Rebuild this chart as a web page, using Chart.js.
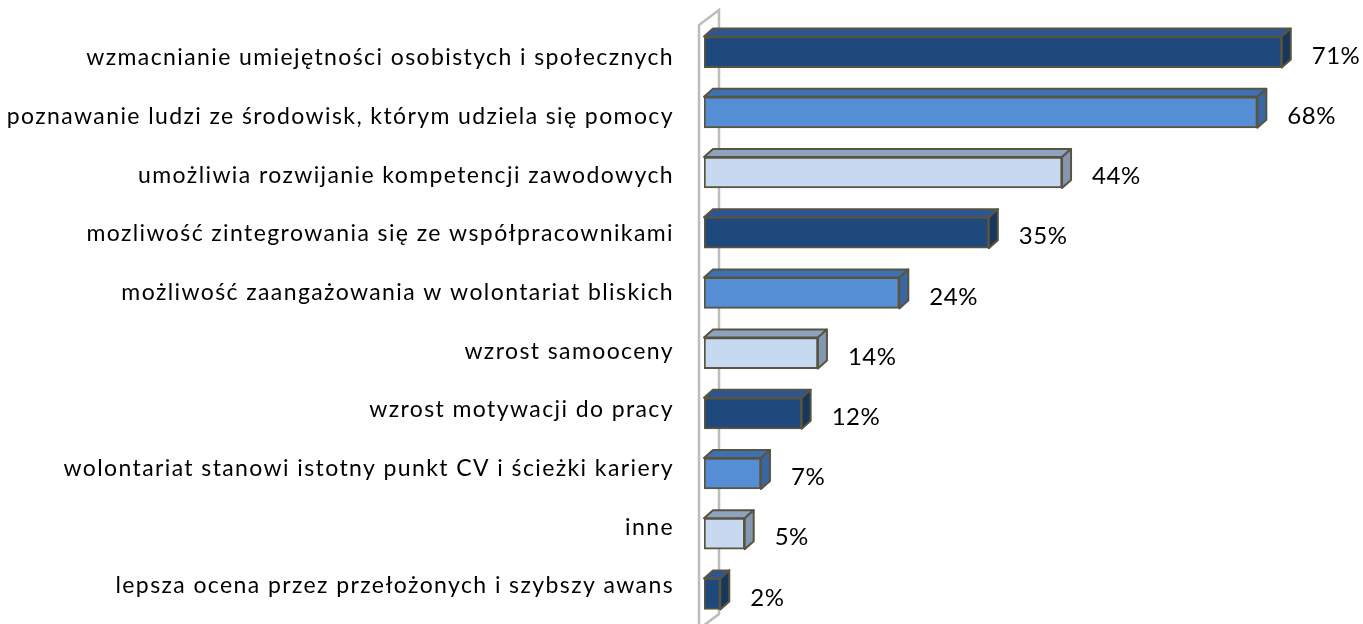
<!DOCTYPE html>
<html>
<head>
<meta charset="utf-8">
<script src="https://cdn.jsdelivr.net/npm/chart.js@4.4.1/dist/chart.umd.min.js"></script>
<style>
  html, body { margin: 0; padding: 0; background: #fff; }
  canvas { display: block; }
</style>
</head>
<body>
<canvas id="chart" width="1363" height="624"></canvas>
<script>
const categories = [
  'wzmacnianie umiejętności osobistych i społecznych',
  'poznawanie ludzi ze środowisk, którym udziela się pomocy',
  'umożliwia rozwijanie kompetencji zawodowych',
  'mozliwość zintegrowania się ze współpracownikami',
  'możliwość zaangażowania w wolontariat bliskich',
  'wzrost samooceny',
  'wzrost motywacji do pracy',
  'wolontariat stanowi istotny punkt CV i ścieżki kariery',
  'inne',
  'lepsza ocena przez przełożonych i szybszy awans'
];
const values = [71, 68, 44, 35, 24, 14, 12, 7, 5, 2];
const valueLabels = values.map(v => v + '%');

// dark / medium / light blue, repeating
const frontColors = ['#1f497d', '#558ed5', '#c6d9f1'];
const topColors = ['#2b5693', '#3f70b2', '#8fa3bf'];
const sideColors = ['#17375e', '#3a66a4', '#8597b0'];
const pick = (arr, i) => arr[i % 3];

const FONT = { family: 'Lato, "Open Sans", sans-serif', size: 23 };
const DX = 9, DY = -8;

// 3d faces of the bars and the back wall
const threeD = {
  id: 'threeD',
  beforeDraw(chart) {
    chart.ctx.letterSpacing = '1.4px';
  },
  beforeDatasetsDraw(chart) {
    const { ctx, chartArea } = chart;
    const l = chartArea.left - 5;
    ctx.save();
    ctx.strokeStyle = '#bcbcbc';
    ctx.lineWidth = 2.5;
    ctx.beginPath();
    ctx.moveTo(l, chartArea.bottom + 4);
    ctx.lineTo(l, chartArea.top + 3);
    ctx.lineTo(l + 20, chartArea.top - 12);
    ctx.lineTo(l + 20, chartArea.bottom - 10);
    ctx.lineTo(l, chartArea.bottom + 5);
    ctx.stroke();

    const meta = chart.getDatasetMeta(0);
    ctx.strokeStyle = '#595440';
    ctx.lineWidth = 2;
    ctx.lineJoin = 'round';
    meta.data.forEach((bar, i) => {
      const { x, y, base, height } = bar.getProps(['x', 'y', 'base', 'height'], true);
      const t = y - height / 2, b = y + height / 2;
      ctx.fillStyle = pick(topColors, i);
      ctx.beginPath();
      ctx.moveTo(base, t);
      ctx.lineTo(base + DX, t + DY);
      ctx.lineTo(x + DX, t + DY);
      ctx.lineTo(x, t);
      ctx.closePath();
      ctx.fill();
      ctx.stroke();
      ctx.fillStyle = pick(sideColors, i);
      ctx.beginPath();
      ctx.moveTo(x, t);
      ctx.lineTo(x + DX, t + DY);
      ctx.lineTo(x + DX, b + DY);
      ctx.lineTo(x, b);
      ctx.closePath();
      ctx.fill();
      ctx.stroke();
    });
    ctx.restore();
  },
  afterDatasetsDraw(chart) {
    const { ctx } = chart;
    const meta = chart.getDatasetMeta(0);
    ctx.save();
    ctx.letterSpacing = '0.5px';
    ctx.font = `24px ${FONT.family}`;
    ctx.fillStyle = '#000';
    ctx.textAlign = 'left';
    ctx.textBaseline = 'middle';
    meta.data.forEach((bar, i) => {
      ctx.fillText(valueLabels[i], bar.x + DX + 21, bar.y + 4);
    });
    ctx.restore();
  }
};

new Chart(document.getElementById('chart').getContext('2d'), {
  type: 'bar',
  data: {
    labels: categories,
    datasets: [{
      data: values,
      backgroundColor: values.map((_, i) => pick(frontColors, i)),
      borderColor: '#595440',
      borderWidth: 2,
      borderSkipped: false,
      barThickness: 31
    }]
  },
  options: {
    indexAxis: 'y',
    responsive: false,
    animation: false,
    layout: { padding: { top: 22, bottom: 0, right: 8, left: 0 } },
    plugins: { legend: { display: false }, tooltip: { enabled: false } },
    scales: {
      x: { display: false, min: 0, max: 80 },
      y: { display: false },
      // label axis: spacing of the labels is a bit tighter than the bars
      yl: {
        type: 'linear',
        position: 'left',
        reverse: true,
        offset: false,
        bounds: 'data',
        min: -0.6136,
        max: 9.6477,
        grid: { display: false, drawTicks: false },
        border: { display: false },
        afterBuildTicks: s => { s.ticks = categories.map((_, i) => ({ value: i })); },
        afterFit: s => { s.width = 704; s.paddingTop = 0; s.paddingBottom = 0; },
        ticks: {
          autoSkip: false,
          padding: 30,
          color: '#000',
          font: FONT,
          callback: v => categories[v]
        }
      }
    }
  },
  plugins: [threeD]
});
</script>
</body>
</html>
